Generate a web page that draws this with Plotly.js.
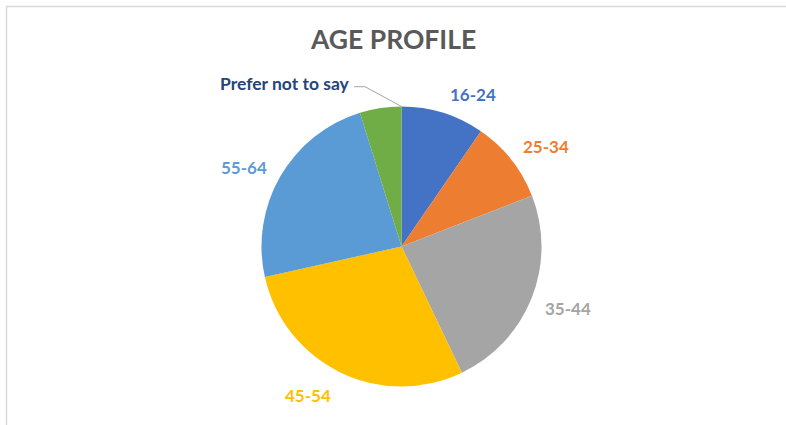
<!DOCTYPE html>
<html>
<head>
<meta charset="utf-8">
<script src="https://cdn.plot.ly/plotly-3.0.1.min.js"></script>
<style>
html,body{margin:0;padding:0;background:#fff;}
#chart{width:786px;height:425px;}
</style>
</head>
<body>
<div id="chart"></div>
<script>
// ---- data ----
var categories = ["16-24", "25-34", "35-44", "45-54", "55-64", "Prefer not to say"];
var shares = [9.6, 9.5, 23.8, 28.6, 23.7, 4.8];
var sliceColors = ["#4472C4", "#ED7D31", "#A5A5A5", "#FFC000", "#5B9BD5", "#70AD47"];
var labelColors = ["#4472C4", "#ED7D31", "#A5A5A5", "#FFC000", "#5B9BD5", "#264478"];
var chartTitle = "AGE PROFILE";

// ---- layout (pixels) ----
var W = 786, H = 425;
var cx = 401.5, cy = 246.5, R = 140;
var labelPos = [[472.5, 94], [546, 146], [568, 308], [308, 395], [244, 167], [285, 83]];
var FONT = "Lato, 'Open Sans', sans-serif";

function px(x){ return x / W; }
function py(y){ return 1 - y / H; }

var annotations = categories.map(function(c, i){
  return {
    xref: "paper", yref: "paper",
    x: px(labelPos[i][0]), y: py(labelPos[i][1]),
    xanchor: "center", yanchor: "middle",
    text: "<b>" + c + "</b>", showarrow: false,
    font: {family: FONT, size: i === 5 ? 17.5 : 17, color: labelColors[i]}
  };
});
annotations.push({
  xref: "paper", yref: "paper", x: 0.5, y: py(39.5),
  xanchor: "center", yanchor: "middle", showarrow: false,
  text: "<b>" + chartTitle + "</b>",
  font: {family: FONT, size: 26.5, color: "#595959"}
});

var shapes = [
  {type: "path", xref: "paper", yref: "paper",
   path: "M" + px(354) + "," + py(86.7) + " L" + px(365) + "," + py(86.7) + " L" + px(cx) + "," + py(cy - R),
   line: {color: "#A6A6A6", width: 1}},
  {type: "line", xref: "paper", yref: "paper", x0: px(6.5), x1: 1, y0: py(6.5), y1: py(6.5),
   line: {color: "#D9D9D9", width: 1.5}},
  {type: "line", xref: "paper", yref: "paper", x0: px(6.5), x1: px(6.5), y0: py(6.5), y1: 0,
   line: {color: "#D9D9D9", width: 1.5}}
];

var trace = {
  type: "pie",
  labels: categories,
  values: shares,
  sort: false,
  direction: "clockwise",
  rotation: 0,
  textinfo: "none",
  hoverinfo: "label+percent",
  marker: {colors: sliceColors, line: {color: "#FFFFFF", width: 0}},
  domain: {x: [px(cx - R), px(cx + R)], y: [py(cy + R), py(cy - R)]},
  showlegend: false
};

var layout = {
  width: W, height: H,
  margin: {l: 0, r: 0, t: 0, b: 0},
  paper_bgcolor: "#FFFFFF",
  showlegend: false,
  annotations: annotations,
  shapes: shapes
};

Plotly.newPlot("chart", [trace], layout, {displayModeBar: false, staticPlot: true});
</script>
</body>
</html>
